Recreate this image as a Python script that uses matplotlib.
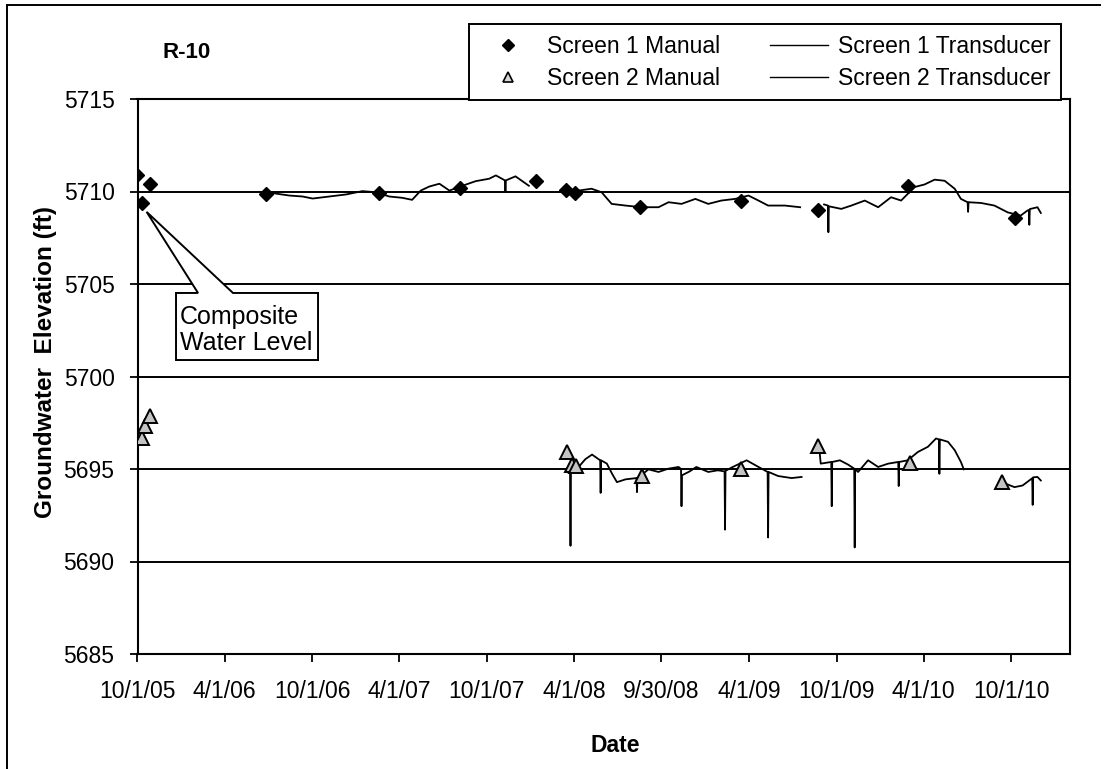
import numpy as np
import pandas as pd
import matplotlib
matplotlib.use("Agg")
import matplotlib.pyplot as plt
import matplotlib.dates as mdates
from matplotlib.lines import Line2D
from matplotlib.patches import Polygon

plt.rcParams['font.family'] = ['Liberation Sans', 'DejaVu Sans']

# manual measurements
s1_manual_dates = ["2005-10-01", "2005-10-10", "2005-10-27", "2006-06-27", "2007-02-18",
                   "2007-08-06", "2008-01-12", "2008-03-14", "2008-04-02", "2008-08-17",
                   "2009-03-15", "2009-08-23", "2010-02-27", "2010-10-09"]
s1_manual_vals = [5710.9, 5709.4, 5710.4, 5709.85, 5709.9, 5710.2, 5710.55, 5710.1,
                  5709.9, 5709.15, 5709.5, 5709.0, 5710.3, 5708.55]

s2_manual_dates = ["2005-10-10", "2005-10-17", "2005-10-28", "2008-03-16", "2008-03-27",
                   "2008-04-05", "2008-08-20", "2009-03-15", "2009-08-24", "2010-03-03",
                   "2010-09-11"]
s2_manual_vals = [5696.65, 5697.3, 5697.85, 5695.9, 5695.2, 5695.15, 5694.6, 5695.0,
                  5696.25, 5695.3, 5694.3]

# transducer records (NaN = data gap)
s1_trans_dates = ["2006-06-30", "2006-08-15", "2006-09-11", "2006-10-02", "2006-11-06",
                  "2006-12-11", "2007-01-14", "2007-02-12", "2007-03-11", "2007-04-07",
                  "2007-04-28", "2007-05-16", "2007-06-03", "2007-06-24", "2007-07-15",
                  "2007-08-11", "2007-09-08", "2007-10-06", "2007-10-20", "2007-11-08",
                  "2007-11-09", "2007-11-10", "2007-11-30", "2007-12-28", "2008-02-15",
                  "2008-04-10", "2008-05-07", "2008-05-28", "2008-06-18", "2008-07-17",
                  "2008-08-20", "2008-09-24", "2008-10-15", "2008-11-11", "2008-12-10",
                  "2009-01-06", "2009-02-02", "2009-03-03", "2009-03-31", "2009-04-21",
                  "2009-05-11", "2009-06-15", "2009-07-17", "2009-08-10", "2009-09-05",
                  "2009-09-13", "2009-09-14", "2009-09-15", "2009-10-11", "2009-11-01",
                  "2009-11-29", "2009-12-27", "2010-01-23", "2010-02-13", "2010-03-13",
                  "2010-04-03", "2010-04-24", "2010-05-15", "2010-06-05", "2010-06-18",
                  "2010-07-02", "2010-07-03", "2010-07-04", "2010-07-30", "2010-08-27",
                  "2010-09-24", "2010-10-21", "2010-11-04", "2010-11-07", "2010-11-08",
                  "2010-11-09", "2010-11-25", "2010-12-02"]
s1_trans_vals = [5709.95, 5709.78, 5709.73, 5709.62, 5709.73,
                 5709.84, 5710.02, 5709.96, 5709.73, 5709.66,
                 5709.55, 5710.05, 5710.27, 5710.42, 5710.05,
                 5710.31, 5710.56, 5710.69, 5710.87, 5710.6,
                 5710.0, 5710.6, 5710.82, 5710.31, np.nan,
                 5710.05, 5710.15, 5709.96, 5709.33, 5709.24,
                 5709.15, 5709.15, 5709.42, 5709.33, 5709.6,
                 5709.33, 5709.51, 5709.6, 5709.78, 5709.51,
                 5709.24, 5709.24, 5709.15, np.nan, 5709.3,
                 5709.24, 5707.8, 5709.2, 5709.06, 5709.24,
                 5709.51, 5709.15, 5709.69, 5709.51, 5710.24,
                 5710.38, 5710.64, 5710.58, 5710.15, 5709.6,
                 5709.42, 5708.9, 5709.42, 5709.38, 5709.24,
                 5708.87, 5708.7, 5708.97, 5709.0, 5708.2,
                 5709.05, 5709.15, 5708.84]

s2_trans_dates = ["2008-03-23", "2008-03-24", "2008-03-25", "2008-04-10", "2008-04-24",
                  "2008-05-08", "2008-05-25", "2008-05-26", "2008-05-27", "2008-06-08",
                  "2008-06-19", "2008-06-29", "2008-07-17", "2008-08-09", "2008-08-10",
                  "2008-08-11", "2008-09-03", "2008-09-24", "2008-10-15", "2008-11-05",
                  "2008-11-10", "2008-11-11", "2008-11-12", "2008-11-28", "2008-12-12",
                  "2009-01-06", "2009-01-26", "2009-02-09", "2009-02-10", "2009-02-11",
                  "2009-02-23", "2009-03-27", "2009-04-21", "2009-05-10", "2009-05-11",
                  "2009-05-12", "2009-06-01", "2009-06-29", "2009-07-20", "2009-08-10",
                  "2009-08-27", "2009-08-29", "2009-09-20", "2009-09-21", "2009-09-22",
                  "2009-10-08", "2009-10-25", "2009-11-07", "2009-11-08", "2009-11-09",
                  "2009-11-15", "2009-12-06", "2009-12-27", "2010-01-17", "2010-02-07",
                  "2010-02-08", "2010-02-09", "2010-02-27", "2010-03-20", "2010-04-10",
                  "2010-04-27", "2010-05-03", "2010-05-04", "2010-05-05", "2010-05-22",
                  "2010-06-05", "2010-06-18", "2010-06-24", "2010-08-01", "2010-09-20",
                  "2010-10-08", "2010-10-25", "2010-11-14", "2010-11-15", "2010-11-16",
                  "2010-11-25", "2010-12-02"]
s2_trans_vals = [5695.0, 5690.85, 5695.02, 5695.11, 5695.53,
                 5695.78, 5695.47, 5693.71, 5695.47, 5695.29,
                 5694.74, 5694.29, 5694.44, 5694.51, 5693.75,
                 5694.51, 5694.98, 5694.84, 5695.02, 5695.11,
                 5695.0, 5692.99, 5694.66, 5694.87, 5695.11,
                 5694.84, 5694.93, 5694.87, 5691.72, 5694.9,
                 5695.07, 5695.47, 5695.11, 5694.84, 5691.3,
                 5694.84, 5694.62, 5694.51, 5694.57, np.nan,
                 5695.83, 5695.29, 5695.38, 5692.99, 5695.38,
                 5695.47, 5695.24, 5695.02, 5690.76, 5695.0,
                 5694.84, 5695.47, 5695.11, 5695.29, 5695.38,
                 5694.08, 5695.38, 5695.47, 5695.92, 5696.2,
                 5696.65, 5696.6, 5694.74, 5696.6, 5696.47,
                 5696.02, 5695.38, 5694.98, np.nan, 5694.2,
                 5694.02, 5694.11, 5694.5, 5693.06, 5694.55,
                 5694.57, 5694.38]

tick_labels = ["10/1/05", "4/1/06", "10/1/06", "4/1/07", "10/1/07", "4/1/08",
               "9/30/08", "4/1/09", "10/1/09", "4/1/10", "10/1/10"]
y_ticks = [5685, 5690, 5695, 5700, 5705, 5710, 5715]

# point the callout wedge at
callout_date = "2005-10-20"
callout_val = 5708.9

W, H = 1112, 769
fig = plt.figure(figsize=(W / 100, H / 100), dpi=100)
ax = fig.add_axes([137.5 / W, 1 - 654 / H, (1070 - 137.5) / W, (654 - 99) / H])

for y in y_ticks[1:-1]:
    ax.axhline(y, color="black", lw=1.4, zorder=1)

ax.plot(pd.to_datetime(s1_trans_dates), s1_trans_vals, color="black", lw=1.3, zorder=2)
ax.plot(pd.to_datetime(s2_trans_dates), s2_trans_vals, color="black", lw=1.3, zorder=2)
ax.plot(pd.to_datetime(s1_manual_dates), s1_manual_vals, linestyle="none", marker="D",
        ms=7.5, mfc="black", mec="black", zorder=4)
ax.plot(pd.to_datetime(s2_manual_dates), s2_manual_vals, linestyle="none", marker="^",
        ms=10, mfc="#c4c4c4", mec="black", mew=1.4, zorder=4)

ax.set_xlim(pd.Timestamp("2005-10-01"), pd.Timestamp("2011-02-01"))
ax.set_ylim(5685, 5715)
ax.set_yticks(y_ticks)
ax.set_xticks(pd.to_datetime(tick_labels, format="%m/%d/%y"))
ax.set_xticklabels(tick_labels)
ax.tick_params(axis="both", direction="out", length=6, width=1.3, labelsize=16.5, colors="black")
ax.tick_params(axis="x", pad=12.5)
ax.tick_params(axis="y", pad=10.5)
for sp in ax.spines.values():
    sp.set_linewidth(1.5)
    sp.set_color("black")

# callout box with wedge (axes fraction), tip on the data point
tip = ax.transAxes.inverted().transform(
    ax.transData.transform((mdates.date2num(pd.Timestamp(callout_date)), callout_val)))
bx0, bx1, by0, by1 = 0.0413, 0.1936, 0.5297, 0.6505
callout = Polygon([(bx0, by1), (0.0649, by1), tuple(tip), (0.1024, by1), (bx1, by1),
                   (bx1, by0), (bx0, by0)], closed=True, transform=ax.transAxes,
                  fc="white", ec="black", lw=1.4, zorder=5, clip_on=False)
ax.add_patch(callout)
ax.text(0.0456, 0.5838, "Composite\nWater Level", transform=ax.transAxes, ha="left",
        va="center", fontsize=18, linespacing=1.1, zorder=6)

fig.text(46 / W, 1 - 362 / H, "Groundwater  Elevation (ft)", rotation=90, ha="center",
         va="center", fontsize=17.5, fontweight="bold")
fig.text(615 / W, 1 - 745 / H, "Date", ha="center", va="center", fontsize=16.5,
         fontweight="bold")
fig.text(187 / W, 1 - 53 / H, "R-10", ha="center", va="center", fontsize=16,
         fontweight="bold")

handles = [
    Line2D([], [], linestyle="none", marker="D", ms=6, mfc="black", mec="black"),
    Line2D([], [], linestyle="none", marker="^", ms=7, mfc="#d8d8d8", mec="black", mew=1.2),
    Line2D([], [], color="black", lw=1.0),
    Line2D([], [], color="black", lw=1.0),
]
labels = ["Screen 1 Manual", "Screen 2 Manual", "Screen 1 Transducer", "Screen 2 Transducer"]
leg = fig.legend(handles, labels, ncol=2, loc="lower left",
                 bbox_to_anchor=(469 / W, 1 - 100 / H), fontsize=16.5, frameon=True,
                 fancybox=False, edgecolor="black", framealpha=1, borderpad=0.45,
                 labelspacing=0.4, handlelength=2.5, handletextpad=0.45,
                 columnspacing=2.2, borderaxespad=0)
leg.get_frame().set_linewidth(1.4)

# outer frame (left and top edges)
fig.add_artist(Line2D([7 / W, 7 / W], [0, 1 - 5 / H], color="black", lw=1.4))
fig.add_artist(Line2D([7 / W, 1100 / W], [1 - 5 / H, 1 - 5 / H], color="black", lw=1.4))

fig.savefig("out.png", dpi=100)
